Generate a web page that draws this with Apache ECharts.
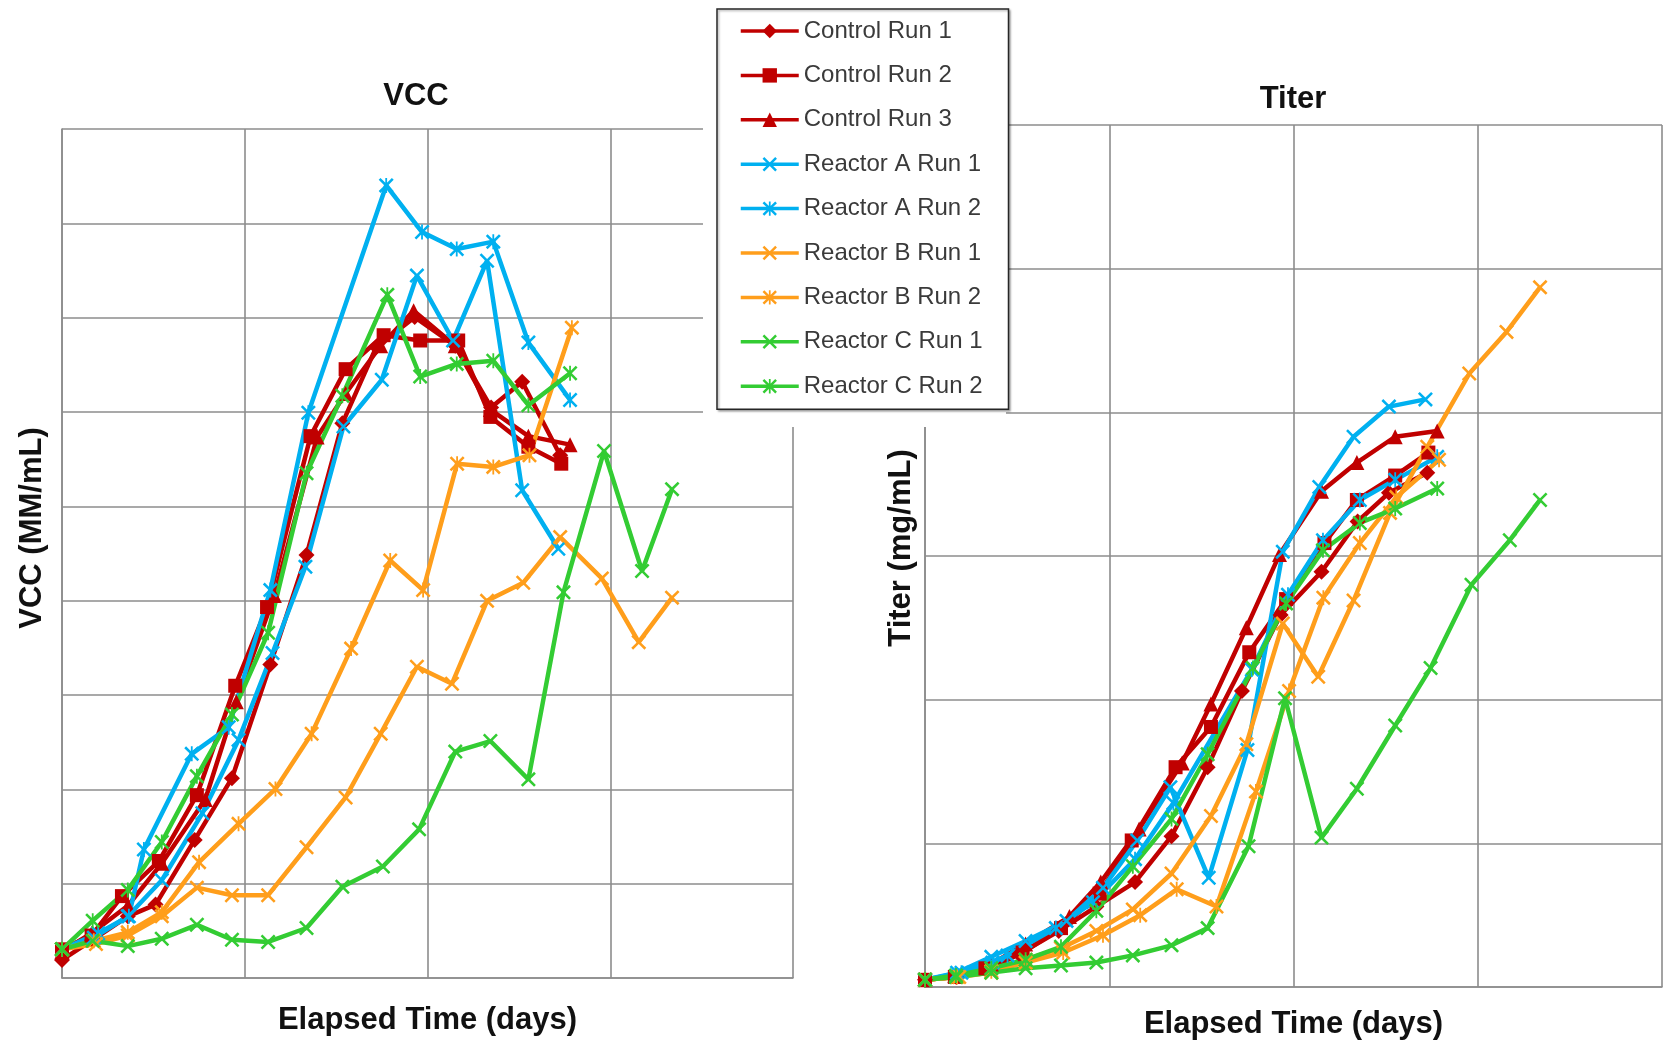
<!DOCTYPE html>
<html>
<head>
<meta charset="utf-8">
<script src="https://cdn.jsdelivr.net/npm/echarts/dist/echarts.min.js"></script>
<style>
html,body{margin:0;padding:0;background:#fff;}
#c{width:1667px;height:1041px;}
</style>
</head>
<body>
<div id="c"></div>
<script>
// ---------------- DATA ----------------
const seriesNames = ['Control Run 1','Control Run 2','Control Run 3','Reactor A Run 1','Reactor A Run 2','Reactor B Run 1','Reactor B Run 2','Reactor C Run 1','Reactor C Run 2'];

const ctrl1Days  = [0, 0.85, 1.8, 2.56, 3.63, 4.65, 5.7, 6.69, 7.67, 8.6, 9.65, 10.76, 11.74, 12.59, 13.63];
const ctrl1Vcc   = [0.96, 2.03, 3.27, 3.89, 7.32, 10.59, 16.61, 22.42, 29.40, 33.45, 35.03, 33.51, 30.24, 31.60, 27.71];
const ctrl1Titer = [0.05, 0.07, 0.13, 0.23, 0.39, 0.56, 0.73, 1.05, 1.53, 2.06, 2.59, 2.89, 3.24, 3.44, 3.58];

const ctrl2Days  = [0, 0.81, 1.64, 2.65, 3.69, 4.74, 5.61, 6.8, 7.76, 8.8, 9.8, 10.84, 11.72, 12.76, 13.66];
const ctrl2Vcc   = [1.52, 2.25, 4.34, 6.20, 9.69, 15.49, 19.66, 28.72, 32.27, 34.07, 33.79, 33.79, 29.74, 28.16, 27.26];
const ctrl2Titer = [0.05, 0.07, 0.13, 0.24, 0.41, 0.65, 1.02, 1.53, 1.81, 2.33, 2.70, 3.09, 3.39, 3.56, 3.72];

const ctrl3Days  = [0, 0.81, 1.8, 2.73, 3.92, 4.77, 5.81, 6.98, 7.76, 8.72, 9.62, 10.76, 11.72, 12.76, 13.9];
const ctrl3Vcc   = [1.41, 2.37, 3.83, 6.08, 9.46, 14.64, 20.28, 28.67, 30.98, 33.51, 35.37, 33.51, 30.13, 28.72, 28.27];
const ctrl3Titer = [0.05, 0.08, 0.16, 0.30, 0.49, 0.73, 1.10, 1.56, 1.97, 2.50, 3.01, 3.45, 3.65, 3.83, 3.87];

const aRun1Days  = [0, 0.87, 1.8, 2.73, 3.84, 4.83, 5.76, 6.66, 7.70, 8.75, 9.71, 10.70, 11.63, 12.59, 13.58];
const aRun1Vcc   = [1.52, 2.14, 3.27, 5.18, 8.73, 12.62, 17.23, 21.80, 29.23, 31.71, 37.23, 33.79, 38.02, 25.85, 22.75];
const aRun1Titer = [0.05, 0.10, 0.21, 0.32, 0.46, 0.69, 1.02, 1.39, 0.76, 1.65, 3.03, 3.48, 3.83, 4.04, 4.09];

const aRun2Days  = [0, 0.99, 1.83, 2.24, 3.55, 4.56, 5.7, 6.74, 8.87, 9.85, 10.8, 11.8, 12.76, 13.9];
const aRun2Vcc   = [1.52, 2.37, 3.27, 6.81, 11.88, 13.29, 20.56, 29.96, 42.01, 39.54, 38.64, 39.03, 33.68, 30.64];
const aRun2Titer = [0.05, 0.10, 0.17, 0.22, 0.41, 0.59, 0.89, 1.28, 2.21, 2.73, 3.11, 3.39, 3.53, 3.69];

const bRun1Days  = [0, 0.93, 1.8, 2.73, 3.69, 4.65, 5.64, 6.69, 7.76, 8.72, 9.71, 10.67, 11.63, 12.62, 13.63, 14.77, 15.78, 16.69];
const bRun1Vcc   = [1.52, 1.80, 2.25, 3.27, 4.79, 4.39, 4.39, 6.93, 9.57, 12.95, 16.50, 15.60, 19.99, 20.95, 23.37, 21.18, 17.80, 20.16];
const bRun1Titer = [0.05, 0.07, 0.10, 0.19, 0.27, 0.39, 0.54, 0.79, 1.19, 1.69, 2.53, 2.16, 2.69, 3.30, 3.76, 4.27, 4.56, 4.87];

const bRun2Days  = [0, 0.87, 1.8, 2.73, 3.75, 4.83, 5.84, 6.83, 7.91, 8.98, 9.88, 10.81, 11.8, 12.79, 13.95];
const bRun2Vcc   = [1.52, 1.97, 2.42, 3.49, 6.14, 8.17, 10.02, 12.95, 17.46, 22.13, 20.56, 27.26, 27.09, 27.71, 34.47];
const bRun2Titer = [0.05, 0.07, 0.11, 0.17, 0.24, 0.36, 0.50, 0.68, 0.56, 1.36, 2.06, 2.71, 3.09, 3.41, 3.67];

const cRun1Days  = [0, 0.84, 1.8, 2.73, 3.69, 4.65, 5.64, 6.69, 7.67, 8.78, 9.77, 10.76, 11.72, 12.76, 13.72, 14.83, 15.87, 16.69];
const cRun1Vcc   = [1.52, 1.97, 1.69, 2.08, 2.82, 2.03, 1.91, 2.65, 4.84, 5.91, 7.88, 12.00, 12.56, 10.53, 20.44, 27.93, 21.57, 25.91];
const cRun1Titer = [0.05, 0.07, 0.10, 0.13, 0.15, 0.17, 0.22, 0.29, 0.41, 0.98, 2.01, 1.04, 1.38, 1.82, 2.22, 2.80, 3.11, 3.39];

const cRun2Days  = [0, 0.84, 1.8, 2.73, 3.69, 4.65, 5.64, 6.69, 7.67, 8.9, 9.8, 10.8, 11.8, 12.76, 13.9];
const cRun2Vcc   = [1.52, 3.04, 4.67, 7.21, 10.70, 13.97, 18.30, 26.75, 30.86, 36.21, 31.88, 32.55, 32.72, 30.36, 32.05];
const cRun2Titer = [0.05, 0.08, 0.13, 0.19, 0.28, 0.53, 0.84, 1.17, 1.62, 2.22, 2.67, 3.04, 3.23, 3.33, 3.47];

const chartTitles = ['VCC', 'Titer'];
const xAxisTitle = 'Elapsed Time (days)';
const yAxisTitles = ['VCC (MM/mL)', 'Titer (mg/mL)'];

// ---------------- STYLE ----------------
const RED = '#C00000', BLUE = '#00B0F0', ORANGE = '#FF9E1B', GREEN = '#33CC33';
const X_PATH = 'path://M0,1.2L1.2,0L5,3.8L8.8,0L10,1.2L6.2,5L10,8.8L8.8,10L5,6.2L1.2,10L0,8.8L3.8,5Z';
const STAR_PATH = 'path://M0,1.2L1.2,0L5,3.8L8.8,0L10,1.2L6.2,5L10,8.8L8.8,10L5,6.2L1.2,10L0,8.8L3.8,5Z M4.4,0L5.6,0L5.6,10L4.4,10Z';
const FONT = "'Liberation Sans', Arial, sans-serif";

const runs = [
  {name: seriesNames[0], days: ctrl1Days, vcc: ctrl1Vcc, titer: ctrl1Titer, color: RED, symbol: 'diamond', size: 16},
  {name: seriesNames[1], days: ctrl2Days, vcc: ctrl2Vcc, titer: ctrl2Titer, color: RED, symbol: 'rect', size: 14},
  {name: seriesNames[2], days: ctrl3Days, vcc: ctrl3Vcc, titer: ctrl3Titer, color: RED, symbol: 'triangle', size: 15},
  {name: seriesNames[3], days: aRun1Days, vcc: aRun1Vcc, titer: aRun1Titer, color: BLUE, symbol: X_PATH, size: 15},
  {name: seriesNames[4], days: aRun2Days, vcc: aRun2Vcc, titer: aRun2Titer, color: BLUE, symbol: STAR_PATH, size: 15},
  {name: seriesNames[5], days: bRun1Days, vcc: bRun1Vcc, titer: bRun1Titer, color: ORANGE, symbol: X_PATH, size: 15},
  {name: seriesNames[6], days: bRun2Days, vcc: bRun2Vcc, titer: bRun2Titer, color: ORANGE, symbol: STAR_PATH, size: 15},
  {name: seriesNames[7], days: cRun1Days, vcc: cRun1Vcc, titer: cRun1Titer, color: GREEN, symbol: X_PATH, size: 15},
  {name: seriesNames[8], days: cRun2Days, vcc: cRun2Vcc, titer: cRun2Titer, color: GREEN, symbol: STAR_PATH, size: 15}
];

function mkSeries(run, idx, vals) {
  return {
    name: run.name, type: 'line', xAxisIndex: idx, yAxisIndex: idx,
    data: run.days.map((d, i) => [d, vals[i]]),
    symbol: run.symbol, symbolSize: run.size, showSymbol: true, showAllSymbol: true,
    lineStyle: {width: 4.5, color: run.color},
    itemStyle: {color: run.color},
    emphasis: {disabled: true}
  };
}
const series = [];
runs.forEach(r => series.push(mkSeries(r, 0, r.vcc)));
runs.forEach(r => series.push(mkSeries(r, 1, r.titer)));

const GRIDC = '#8c8c8c';
function xAx(gi, gap) {
  return {
    gridIndex: gi, type: 'value', min: 0, max: 20, interval: 5,
    axisLabel: {show: false}, axisTick: {show: false},
    axisLine: {show: true, lineStyle: {color: GRIDC, width: 1.6}},
    splitLine: {show: true, lineStyle: {color: GRIDC, width: 1.6}},
    name: xAxisTitle, nameLocation: 'middle', nameGap: gap,
    nameTextStyle: {fontSize: 31, fontWeight: 'bold', color: '#111', fontFamily: FONT}
  };
}
function yAx(gi, max, interval) {
  return {
    gridIndex: gi, type: 'value', min: 0, max: max, interval: interval,
    axisLabel: {show: false}, axisTick: {show: false},
    axisLine: {show: true, lineStyle: {color: GRIDC, width: 1.6}},
    splitLine: {show: true, lineStyle: {color: GRIDC, width: 1.6}}
  };
}

const chart = echarts.init(document.getElementById('c'), null, {renderer: 'canvas'});
chart.setOption({
  animation: false,
  backgroundColor: '#fff',
  grid: [
    {left: 62, top: 129, width: 731, height: 849, outerBoundsMode: 'none', containLabel: false},
    {left: 925, top: 125, width: 737, height: 862, outerBoundsMode: 'none', containLabel: false}
  ],
  xAxis: [xAx(0, 27), xAx(1, 22)],
  yAxis: [yAx(0, 45, 5), yAx(1, 6, 1)],
  legend: {
    data: seriesNames, orient: 'vertical', left: 717, top: 9,
    padding: [10, 26, 11, 22], itemGap: 20.4, itemWidth: 58, itemHeight: 18,
    backgroundColor: '#fff', borderColor: '#262626', borderWidth: 1.5,
    shadowColor: 'rgba(0,0,0,0.3)', shadowBlur: 2, shadowOffsetX: 1.5, shadowOffsetY: 1.5,
    lineStyle: {width: 3.5},
    textStyle: {fontSize: 24, color: '#3a3a3a', fontFamily: FONT},
    selectedMode: false, z: 10
  },
  graphic: {elements: [
    {type: 'rect', shape: {x: 703, y: 0, width: 303, height: 427}, style: {fill: '#fff'}, z: 1, silent: true},
    {type: 'text', x: 416, y: 96, z: 5, style: {text: chartTitles[0], font: 'bold 31px ' + FONT, fill: '#111', textAlign: 'center', textVerticalAlign: 'middle'}},
    {type: 'text', x: 1293, y: 99, z: 5, style: {text: chartTitles[1], font: 'bold 31px ' + FONT, fill: '#111', textAlign: 'center', textVerticalAlign: 'middle'}},
    {type: 'text', x: 32, y: 528, rotation: Math.PI / 2, z: 5, style: {text: yAxisTitles[0], font: 'bold 31px ' + FONT, fill: '#111', textAlign: 'center', textVerticalAlign: 'middle'}},
    {type: 'text', x: 901, y: 548, rotation: Math.PI / 2, z: 5, style: {text: yAxisTitles[1], font: 'bold 31px ' + FONT, fill: '#111', textAlign: 'center', textVerticalAlign: 'middle'}}
  ]},
  series: series
});
</script>
</body>
</html>
